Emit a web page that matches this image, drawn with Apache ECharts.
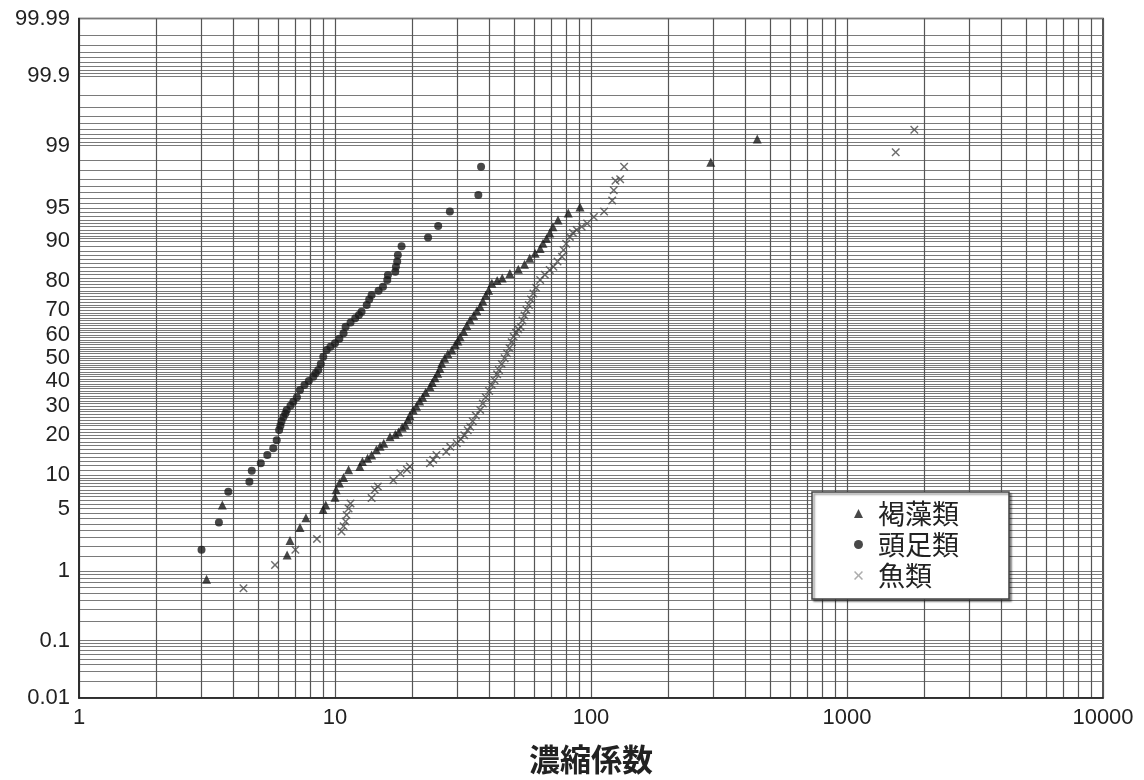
<!DOCTYPE html>
<html><head><meta charset="utf-8">
<script src="https://cdn.jsdelivr.net/npm/echarts@6/dist/echarts.min.js"></script>
<style>html,body{margin:0;padding:0;background:#fff}#c{width:1144px;height:780px}</style>
</head><body><div id="c"></div>
<script>
// ---- tick labels ----
const xTickLabels = ['1', '10', '100', '1000', '10000'];
const yTickLabels = ['0.01', '0.1', '1', '5', '10', '20', '30', '40', '50', '60', '70', '80', '90', '95', '99', '99.9', '99.99'];
const seriesNames = ['褐藻類', '頭足類', '魚類'];
const axisTitle = '濃縮係数';

// ---- 褐藻類 (triangles): concentration factor, cumulative % ----
const kelpX = [3.15, 3.63, 6.5, 6.67, 7.3, 7.7, 8.98, 9.2, 10.0, 10.1, 10.4, 10.8, 11.3, 12.5, 12.8, 13.4, 13.9, 14.5, 15.0, 15.5, 16.4, 17.2, 17.7, 18.3, 18.8, 19.3, 19.6, 20.2, 20.8, 21.4, 22, 22.6, 23.5, 24, 24.6, 25.2, 25.7, 26.1, 26.8, 27.6, 28.6, 29.5, 30.2, 30.8, 31.8, 32.7, 33.7, 34.8, 35.8, 36.9, 37.8, 38.8, 39.8, 41, 43, 45, 48.2, 52, 55, 57.6, 60.5, 63.3, 64.9, 67, 69, 71, 74.3, 81.5, 90.6, 293.6, 446];
const kelpP = [0.78, 5.4, 1.56, 2.3, 3.2, 4.05, 4.9, 5.4, 6.4, 7.5, 8.6, 9.6, 11.1, 11.8, 12.9, 13.7, 14.5, 15.8, 16.8, 17.6, 19.5, 20.3, 21, 22.5, 23.3, 25, 26.5, 28.6, 30, 32, 33.5, 35.5, 37.8, 39.5, 41.5, 43.5, 45.5, 47.8, 50, 52, 53.6, 56, 57.5, 59.3, 61.5, 64, 66.2, 68, 69.8, 71.4, 73.5, 75.5, 77.2, 79.4, 80.3, 81, 82.3, 83.5, 84.8, 86.3, 87.5, 88.5, 89.6, 90.5, 91.5, 92.5, 93.5, 94.4, 95.1, 98.4, 99.18];

// ---- 頭足類 (circles) ----
const cephX = [3.01, 3.52, 3.83, 4.63, 4.73, 5.13, 5.44, 5.74, 5.92, 6.05, 6.12, 6.18, 6.29, 6.4, 6.48, 6.7, 6.87, 7.1, 7.3, 7.6, 7.9, 8.23, 8.4, 8.6, 8.8, 9.0, 9.28, 9.6, 10.0, 10.4, 10.8, 11.0, 11.5, 12.0, 12.4, 12.7, 13.3, 13.6, 13.9, 14.8, 15.4, 16.0, 16.1, 17.2, 17.3, 17.5, 17.6, 18.2, 23.1, 25.3, 28.1, 36.3, 37.2];
const cephP = [1.8, 3.6, 7.2, 8.8, 10.9, 12.5, 14.5, 16.2, 18.5, 21.6, 23, 24.4, 26.0, 27.3, 28.6, 30.2, 31.7, 33.5, 36.4, 38.5, 40.2, 42, 43.5, 44.9, 47.5, 50.7, 53.6, 55, 56.5, 58.5, 60.8, 63.5, 65.2, 66.9, 68.2, 69.5, 72, 74, 75.6, 77, 78.3, 80.4, 81.9, 82.8, 84.2, 85.5, 87.1, 89.0, 90.7, 92.6, 94.6, 96.3, 98.2];

// ---- 魚類 (crosses) ----
const fishX = [4.39, 5.83, 7.0, 8.5, 10.6, 10.8, 11.0, 11.1, 11.3, 11.5, 13.9, 14.3, 14.7, 16.9, 18.0, 19.1, 19.6, 23.5, 24.2, 24.9, 27.2, 28.2, 29.9, 31, 32, 33, 33.7, 34.5, 35.5, 36.9, 37.8, 38.8, 40, 41, 42, 43, 43.7, 44.8, 46, 47, 48, 49, 49.9, 51, 52, 53.1, 54, 55, 56, 57.2, 58.3, 59.6, 61, 63.3, 66, 69, 71.3, 74, 77, 78.1, 80, 82.7, 85, 87.9, 92, 96.6, 102.6, 112.5, 121, 122.7, 124.6, 130, 134.7, 1550, 1832];
const fishP = [0.59, 1.18, 1.8, 2.4, 2.9, 3.3, 3.7, 4.3, 5.0, 5.6, 6.3, 7.5, 8.0, 9.1, 10.4, 11.1, 11.8, 12.5, 13.3, 14.5, 15.3, 16.6, 17.6, 18.8, 20, 21.5, 22.7, 24.5, 26.5, 28.6, 31, 33.5, 36, 38.5, 40.5, 43, 44.9, 47.5, 50, 52.2, 54.5, 57, 59.3, 61, 62.5, 63.5, 66, 68, 70.1, 72, 74, 76.1, 78, 80.4, 82, 83.3, 84.2, 85.5, 86.7, 88.2, 89.5, 90.8, 91.5, 92, 92.5, 93, 93.9, 94.6, 95.8, 96.7, 97.4, 97.5, 98.2, 98.79, 99.38];

// ---- normal probability scale (probit) ----
function probit(p) {
  const a = [-3.969683028665376e+01, 2.209460984245205e+02, -2.759285104469687e+02, 1.383577518672690e+02, -3.066479806614716e+01, 2.506628277459239e+00];
  const b = [-5.447609879822406e+01, 1.615858368580409e+02, -1.556989798598866e+02, 6.680131188771972e+01, -1.328068155288572e+01];
  const c = [-7.784894002430293e-03, -3.223964580411365e-01, -2.400758277161838e+00, -2.549732539343734e+00, 4.374664141464968e+00, 2.938163982698783e+00];
  const d = [7.784695709041462e-03, 3.224671290700398e-01, 2.445134137142996e+00, 3.754408661907416e+00];
  const pl = 0.02425, ph = 1 - pl;
  let q, r;
  if (p < pl) {
    q = Math.sqrt(-2 * Math.log(p));
    return (((((c[0]*q+c[1])*q+c[2])*q+c[3])*q+c[4])*q+c[5]) / ((((d[0]*q+d[1])*q+d[2])*q+d[3])*q+1);
  }
  if (p <= ph) {
    q = p - 0.5; r = q * q;
    return (((((a[0]*r+a[1])*r+a[2])*r+a[3])*r+a[4])*r+a[5])*q / (((((b[0]*r+b[1])*r+b[2])*r+b[3])*r+b[4])*r+1);
  }
  q = Math.sqrt(-2 * Math.log(1 - p));
  return -(((((c[0]*q+c[1])*q+c[2])*q+c[3])*q+c[4])*q+c[5]) / ((((d[0]*q+d[1])*q+d[2])*q+d[3])*q+1);
}
const zp = pct => probit(pct / 100);

function steps(a, b, s) { const o = []; for (let v = a; v <= b + 1e-9; v += s) o.push(+v.toFixed(4)); return o; }
const yGridPct = [].concat(steps(0.01, 0.1, 0.01), steps(0.2, 1, 0.1), steps(1.5, 10, 0.5), steps(11, 89, 1),
  steps(90, 99, 0.5), steps(99.1, 99.9, 0.1), steps(99.91, 99.99, 0.01));
const yGrid = yGridPct.map(zp);
const yLabelVals = yTickLabels.map(t => zp(parseFloat(t)));
const yMin = zp(0.01), yMax = zp(99.99);

const xGrid = [];
for (let k = 0; k < 4; k++) for (let m = 1; m < 10; m++) xGrid.push(Math.log10(m * Math.pow(10, k)));
xGrid.push(4);
const xLabelVals = xTickLabels.map(t => Math.log10(parseFloat(t)));

const toData = (xs, ps) => xs.map((x, i) => [Math.log10(x), zp(ps[i])]);
const crossPath = 'path://M0,1.2L1.2,0L5,3.8L8.8,0L10,1.2L6.2,5L10,8.8L8.8,10L5,6.2L1.2,10L0,8.8L3.8,5Z';
const nearest = (vals, v) => { let best = 0; vals.forEach((lv, i) => { if (Math.abs(lv - v) < Math.abs(vals[best] - v)) best = i; }); return best; };

const chart = echarts.init(document.getElementById('c'), null, { renderer: 'canvas' });
chart.setOption({
  animation: false,
  backgroundColor: '#fff',
  grid: { left: 79, right: 41, top: 18.5, bottom: 82, show: true, borderColor: '#222', borderWidth: 1.5, backgroundColor: 'transparent' },
  xAxis: {
    type: 'value', min: 0, max: 4,
    name: axisTitle, nameLocation: 'middle', nameGap: 46,
    nameTextStyle: { fontFamily: '"Noto Sans CJK JP"', fontWeight: 'bold', fontSize: 31, color: '#222' },
    axisLine: { show: true, onZero: false, lineStyle: { color: '#222', width: 1.5 } },
    axisTick: { show: false, customValues: xGrid },
    splitLine: { show: true, lineStyle: { color: '#555', width: 1.2 } },
    axisLabel: {
      customValues: xLabelVals, margin: 9, fontSize: 22, color: '#222', fontFamily: '"Liberation Sans", Arial, sans-serif',
      formatter: v => xTickLabels[nearest(xLabelVals, v)]
    }
  },
  yAxis: {
    type: 'value', min: yMin, max: yMax,
    axisLine: { show: true, onZero: false, lineStyle: { color: '#222', width: 1.5 } },
    axisTick: { show: false, customValues: yGrid },
    splitLine: { show: true, lineStyle: { color: '#7a7a7a', width: 1 } },
    axisLabel: {
      customValues: yLabelVals, margin: 9, fontSize: 22, color: '#222', fontFamily: '"Liberation Sans", Arial, sans-serif',
      formatter: v => yTickLabels[nearest(yLabelVals, v)]
    }
  },
  legend: {
    orient: 'vertical', left: 812, top: 492,
    padding: [8, 50, 10, 42], itemGap: 4, itemWidth: 9, itemHeight: 9,
    backgroundColor: '#fff', borderColor: '#444', borderWidth: 1.5,
    shadowColor: 'rgba(0,0,0,0.45)', shadowBlur: 2, shadowOffsetX: 2, shadowOffsetY: 2,
    textStyle: { fontFamily: '"Noto Sans CJK JP"', fontSize: 27, lineHeight: 26, color: '#222', padding: [0, 0, 0, 10] },
    data: [{ name: seriesNames[0] }, { name: seriesNames[1] }, { name: seriesNames[2], itemStyle: { color: '#999' } }]
  },
  series: [
    { name: seriesNames[0], type: 'scatter', symbol: 'triangle', symbolSize: 9, itemStyle: { color: '#1a1a1a' }, data: toData(kelpX, kelpP), z: 3 },
    { name: seriesNames[1], type: 'scatter', symbol: 'circle', symbolSize: 8, itemStyle: { color: '#1a1a1a' }, data: toData(cephX, cephP), z: 3 },
    { name: seriesNames[2], type: 'scatter', symbol: crossPath, symbolSize: 8.5, itemStyle: { color: '#484848' }, data: toData(fishX, fishP), z: 4 }
  ]
});
</script></body></html>
